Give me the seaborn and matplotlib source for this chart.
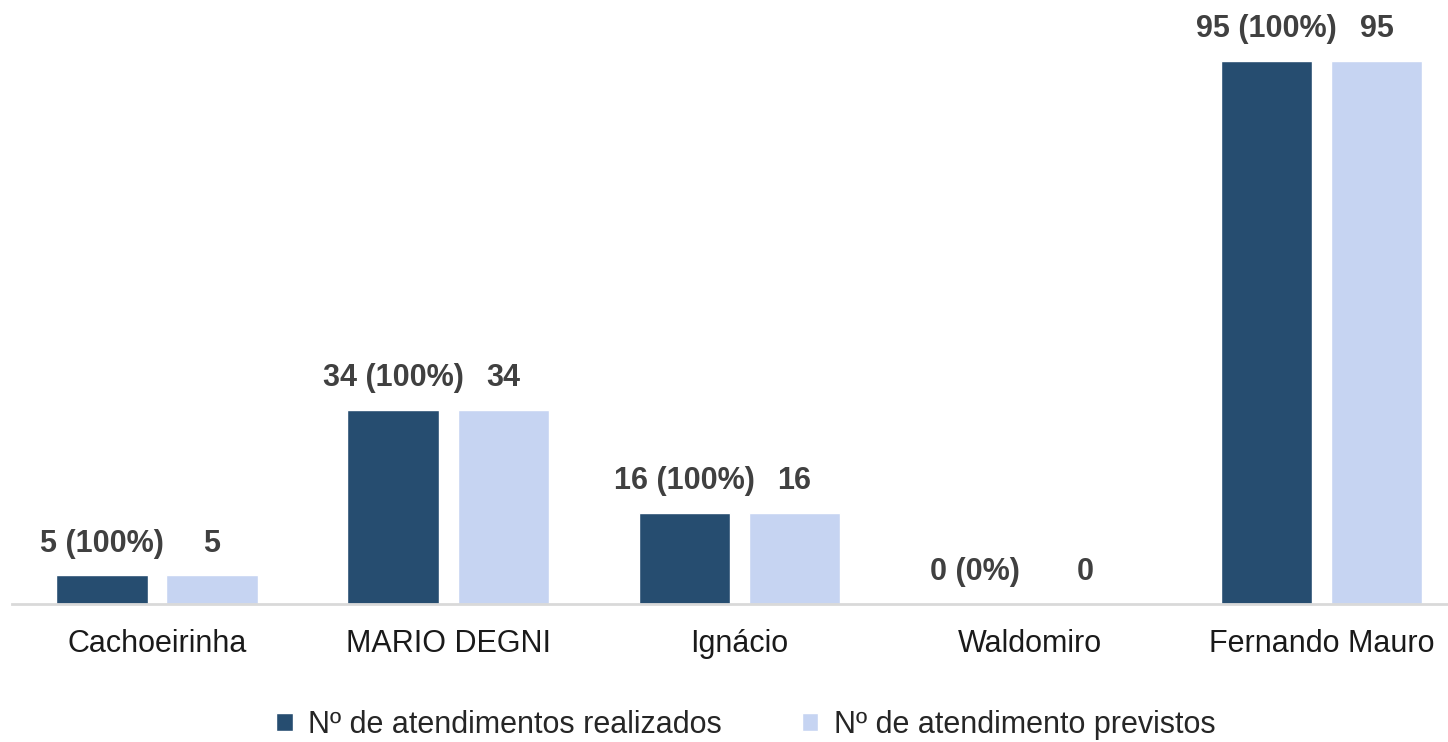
import pandas as pd
import matplotlib.pyplot as plt
import seaborn as sns

categories = ['Cachoeirinha', 'MARIO DEGNI', 'Ignácio', 'Waldomiro', 'Fernando Mauro']
realizados = [5, 34, 16, 0, 95]
previstos = [5, 34, 16, 0, 95]
pct = ['100%', '100%', '100%', '0%', '100%']
series = ['Nº de atendimentos realizados', 'Nº de atendimento previstos']

df = pd.DataFrame({
    'Unidade': categories * 2,
    'Valor': realizados + previstos,
    'Serie': [series[0]] * len(categories) + [series[1]] * len(categories),
})

sns.set_style('white')
plt.rcParams['font.family'] = ['Liberation Sans', 'DejaVu Sans']

fig = plt.figure(figsize=(14.48, 7.42), dpi=100)
ax = fig.add_axes([11.5 / 1448, 138 / 742, 1436.5 / 1448, 604 / 742])

sns.barplot(data=df, x='Unidade', y='Valor', hue='Serie', order=categories,
            hue_order=series, palette=['#264D70', '#C6D4F2'], saturation=1,
            width=0.756, gap=0.17, ax=ax, legend=True)

ax.set_xlim(-0.5, 4.5 - 19 / 291)
ax.set_ylim(0, 105.7)

labels_dark = [f'{v} ({p})' for v, p in zip(realizados, pct)]
labels_light = [str(v) for v in previstos]
ax.bar_label(ax.containers[0], labels=labels_dark, padding=12,
             fontsize=22, fontweight='bold', color='#404040')
ax.bar_label(ax.containers[1], labels=labels_light, padding=12,
             fontsize=22, fontweight='bold', color='#404040')

for s in ['top', 'right', 'left']:
    ax.spines[s].set_visible(False)
ax.spines['bottom'].set_color('#D9D9D9')
ax.spines['bottom'].set_linewidth(2)
ax.set_yticks([])
ax.set_xlabel('')
ax.set_ylabel('')
ax.tick_params(axis='x', length=0, pad=18, labelsize=22, labelcolor='#1a1a1a')

# legend centred under the plot, a bit right of the axes centre like the original
ax.legend(loc='center', bbox_to_anchor=(0.5 + 16 / 1436.5, -0.2), ncol=2,
          frameon=False, fontsize=22, handlelength=0.55, handleheight=0.55,
          handletextpad=0.5, columnspacing=2.6)

fig.savefig('out.png', dpi=100)
